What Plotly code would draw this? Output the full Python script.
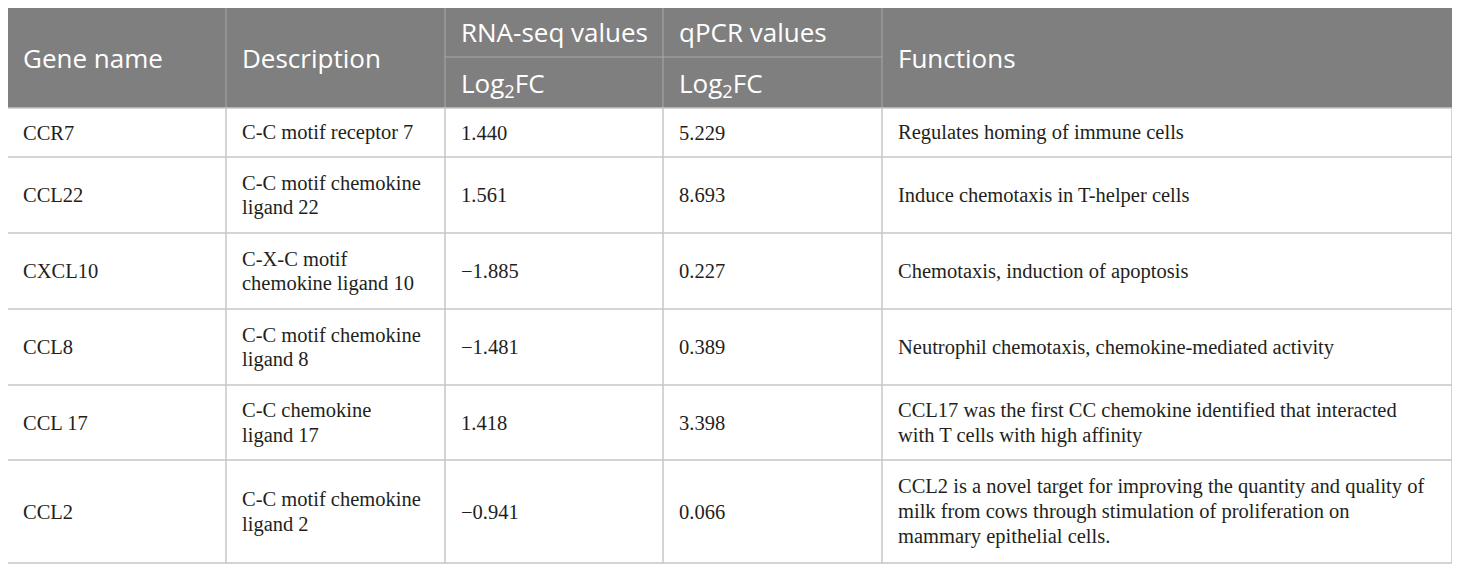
import plotly.graph_objects as go

# ---- data ----
gene_names = ["CCR7", "CCL22", "CXCL10", "CCL8", "CCL 17", "CCL2"]
descriptions = [
    "C-C motif receptor 7",
    "C-C motif chemokine<br>ligand 22",
    "C-X-C motif<br>chemokine ligand 10",
    "C-C motif chemokine<br>ligand 8",
    "C-C chemokine<br>ligand 17",
    "C-C motif chemokine<br>ligand 2",
]
rnaseq_log2fc = ["1.440", "1.561", "\u22121.885", "\u22121.481", "1.418", "\u22120.941"]
qpcr_log2fc = ["5.229", "8.693", "0.227", "0.389", "3.398", "0.066"]
functions = [
    "Regulates homing of immune cells",
    "Induce chemotaxis in T-helper cells",
    "Chemotaxis, induction of apoptosis",
    "Neutrophil chemotaxis, chemokine-mediated activity",
    "CCL17 was the first CC chemokine identified that interacted<br>with T cells with high affinity",
    "CCL2 is a novel target for improving the quantity and quality of<br>milk from cows through stimulation of proliferation on<br>mammary epithelial cells.",
]
header_top = ["Gene name", "Description", "RNA-seq values", "qPCR values", "Functions"]
header_sub = [None, None, "Log<sub>2</sub>FC", "Log<sub>2</sub>FC", None]

# ---- layout geometry (page pixels) ----
W, H = 1460, 572
OFF = 8  # page body margin
col_edges = [7, 226, 445, 663, 882, 1452]
head_y = [7, 57, 108]
row_heights = [49, 76, 76, 76, 75, 103]
pad_x = 14
line_gap = 25

HEAD_FILL = "#7f7f7f"
HEAD_LINE = "#a9a9a9"
GRID = "#c6c6c6"
TXT = "#231f20"
SANS = "Open Sans"
SERIF = "Liberation Serif"

fig = go.Figure()
shapes = []
annotations = []

shapes.append(dict(type="rect", x0=col_edges[0], x1=col_edges[-1], y0=head_y[0], y1=head_y[2],
                   fillcolor=HEAD_FILL, line=dict(width=0), layer="below"))
for xe in col_edges[1:-1]:
    shapes.append(dict(type="line", x0=xe, x1=xe, y0=head_y[0], y1=head_y[2],
                       line=dict(color=HEAD_LINE, width=1)))
shapes.append(dict(type="line", x0=col_edges[2], x1=col_edges[4], y0=head_y[1], y1=head_y[1],
                   line=dict(color=HEAD_LINE, width=1)))
shapes.append(dict(type="line", x0=col_edges[0], x1=col_edges[-1], y0=head_y[0], y1=head_y[0],
                   line=dict(color=HEAD_LINE, width=1)))

for i, (top, sub) in enumerate(zip(header_top, header_sub)):
    x = col_edges[i] + pad_x
    if sub is None:
        annotations.append(dict(x=x, y=(head_y[0] + head_y[2]) / 2, text=top))
    else:
        annotations.append(dict(x=x, y=(head_y[0] + head_y[1]) / 2, text=top))
        annotations.append(dict(x=x, y=(head_y[1] + head_y[2]) / 2 + 1, text=sub))
for a in annotations:
    a.update(xref="x", yref="y", xanchor="left", yanchor="middle", showarrow=False,
             font=dict(family=SANS, size=26, color="white"))

columns = [gene_names, descriptions, rnaseq_log2fc, qpcr_log2fc, functions]
y_top = head_y[2]
row_bounds = []
for h in row_heights:
    row_bounds.append((y_top, y_top + h))
    y_top += h
y_bottom = y_top

for (r0, r1) in row_bounds:
    shapes.append(dict(type="line", x0=col_edges[0], x1=col_edges[-1], y0=r1, y1=r1,
                       line=dict(color=GRID, width=1.5)))
for xe in col_edges:
    shapes.append(dict(type="line", x0=xe, x1=xe, y0=head_y[2], y1=y_bottom,
                       line=dict(color=GRID, width=1.5)))
shapes.append(dict(type="line", x0=col_edges[0], x1=col_edges[-1], y0=head_y[2], y1=head_y[2],
                   line=dict(color=GRID, width=1.5)))

for ci, col in enumerate(columns):
    for ri, val in enumerate(col):
        r0, r1 = row_bounds[ri]
        lines = val.split("<br>")
        n = len(lines)
        yc = (r0 + r1) / 2
        for li, ln in enumerate(lines):
            y = yc + (li - (n - 1) / 2) * line_gap
            annotations.append(dict(x=col_edges[ci] + pad_x, y=y, text=ln, xref="x", yref="y",
                                    xanchor="left", yanchor="middle", showarrow=False,
                                    font=dict(family=SERIF, size=20.5, color=TXT)))

fig.add_trace(go.Scatter(x=[OFF, W], y=[OFF, H], mode="markers", marker=dict(opacity=0),
                         hoverinfo="skip", showlegend=False))

fig.update_layout(
    width=W - OFF, height=H - OFF, margin=dict(l=0, r=0, t=0, b=0),
    paper_bgcolor="white", plot_bgcolor="white",
    xaxis=dict(range=[OFF, W], visible=False, fixedrange=True),
    yaxis=dict(range=[H, OFF], visible=False, fixedrange=True),
    shapes=shapes, annotations=annotations, showlegend=False,
)

fig.write_html("out.html")
